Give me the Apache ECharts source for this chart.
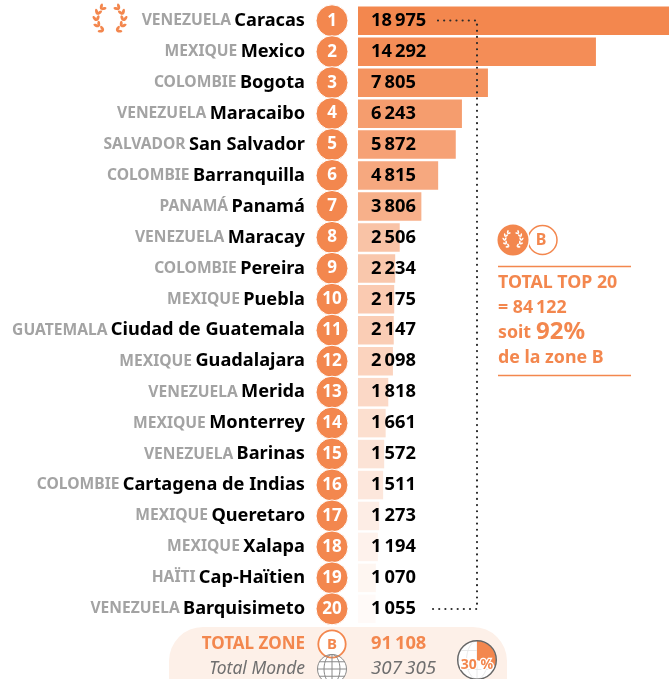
<!DOCTYPE html>
<html><head><meta charset="utf-8">
<style>html,body{margin:0;padding:0;background:#fff}#c{width:669px;height:679px}</style>
<script src="https://cdn.jsdelivr.net/npm/echarts@6/dist/echarts.min.js"></script>
</head><body><div id="c"></div>
<script>
const countries=["VENEZUELA","MEXIQUE","COLOMBIE","VENEZUELA","SALVADOR","COLOMBIE","PANAMÁ","VENEZUELA","COLOMBIE","MEXIQUE","GUATEMALA","MEXIQUE","VENEZUELA","MEXIQUE","VENEZUELA","COLOMBIE","MEXIQUE","MEXIQUE","HAÏTI","VENEZUELA"];
const cities=["Caracas","Mexico","Bogota","Maracaibo","San Salvador","Barranquilla","Panamá","Maracay","Pereira","Puebla","Ciudad de Guatemala","Guadalajara","Merida","Monterrey","Barinas","Cartagena de Indias","Queretaro","Xalapa","Cap-Haïtien","Barquisimeto"];
const values=[18975,14292,7805,6243,5872,4815,3806,2506,2234,2175,2147,2098,1818,1661,1572,1511,1273,1194,1070,1055];
const ranks=[1,2,3,4,5,6,7,8,9,10,11,12,13,14,15,16,17,18,19,20];
const totalZone=91108, totalMonde=307305, top20=84122, shareTop="92%", shareMonde=30;

const OR='#F3874E', FF='"Noto Sans"';
const barFade=[1,.95,.9,.82,.78,.72,.66,.5,.47,.44,.42,.37,.32,.27,.23,.2,.15,.11,.08,.04];
const fmt=v=>String(v).replace(/\B(?=(\d{3})+$)/g,'\u2009');
const gridTop=5.3, gridH=619;

function laurel(cx,cy,R,L,W,color,z){
  const out=[];
  [-1,1].forEach(s=>{
    for(let k=0;k<5;k++){
      const t=(28+k*27)*Math.PI/180;
      const px=cx+s*R*Math.sin(t), py=cy+R*Math.cos(t);
      const dx=s*Math.cos(t), dy=-Math.sin(t), nx=s*Math.sin(t), ny=Math.cos(t);
      [1,-1].forEach(side=>{
        const a=0.55, ux=dx*Math.cos(a)+side*nx*Math.sin(a), uy=dy*Math.cos(a)+side*ny*Math.sin(a);
        out.push({type:'ellipse',x:px+ux*L/2,y:py+uy*L/2,rotation:-Math.atan2(uy,ux),
          shape:{cx:0,cy:0,rx:L/2,ry:W/2},style:{fill:color},z});
      });
    }
  });
  return out;
}
function globe(cx,cy,r,color,lw,z){
  const st={fill:'none',stroke:color,lineWidth:lw};
  const o=[];
  [r,r*0.55].forEach(rx=>o.push({type:'ellipse',shape:{cx,cy,rx,ry:r},style:st,z}));
  o.push({type:'line',shape:{x1:cx,y1:cy-r,x2:cx,y2:cy+r},style:st,z});
  [-0.5,0,0.5].forEach(f=>{const w=r*Math.sqrt(1-f*f);
    o.push({type:'line',shape:{x1:cx-w,y1:cy+f*r,x2:cx+w,y2:cy+f*r},style:st,z});});
  return o;
}
const txt=(x,y,text,size,color,align,extra)=>({type:'text',x,y,z:12,style:Object.assign({text,fill:color,align:align||'left',verticalAlign:'middle',font:`bold ${size}px ${FF}`},extra||{})});
const hline=(x1,x2,y)=>({type:'line',z:12,shape:{x1,y1:y,x2,y2:y},style:{stroke:OR,lineWidth:1.3}});

const graphics=[
  {type:'rect',z:0,shape:{x:169,y:627,width:338,height:90,r:34},style:{fill:'#FDF0E8'}},
  {type:'polyline',z:20,shape:{points:[[438,20.5],[477,20.5],[477,609],[428,609]]},style:{fill:'none',stroke:'#2b2b2b',lineWidth:2.2,lineDash:[0.01,6.15],lineCap:'round'}},
  ...laurel(110,19,13.5,6,2.9,OR,12),
  {type:'circle',z:11,shape:{cx:542.5,cy:240,r:14.5},style:{fill:'#fff',stroke:OR,lineWidth:1.5}},
  {type:'circle',z:12,shape:{cx:513,cy:240,r:17},style:{fill:'#fff'}},
  {type:'circle',z:13,shape:{cx:513,cy:240,r:15.5},style:{fill:OR}},
  ...laurel(513,239.5,8.2,3.6,1.7,'#fff',14),
  txt(541,240.5,'B',16,OR,'center'),
  hline(498,631,266.5),
  txt(498,283,'TOTAL TOP 20',17.8,OR),
  txt(498,308,'= '+fmt(top20),17.8,OR),
  txt(498,333,'soit',17.8,OR),
  txt(536,332,shareTop,24,OR),
  txt(498,358,'de la zone B',17.8,OR),
  hline(498,631,375.5),
  txt(305,644,'TOTAL ZONE',17,OR,'right'),
  {type:'circle',z:12,shape:{cx:332,cy:644,r:13.7},style:{fill:'#fff',stroke:OR,lineWidth:1.8}},
  txt(332,644.5,'B',15,OR,'center'),
  txt(371,644,fmt(totalZone),18.3,OR),
  {type:'text',x:305,y:669,z:12,style:{text:'Total Monde',fill:'#6f6f6f',align:'right',verticalAlign:'middle',font:`italic 17.5px ${FF}`}},
  {type:'circle',z:11,shape:{cx:332,cy:669,r:14.5},style:{fill:'#fff'}},
  ...globe(332,669,14.5,'#8a8a8a',1,12),
  {type:'text',x:371,y:669,z:12,style:{text:fmt(totalMonde),fill:'#6f6f6f',verticalAlign:'middle',font:`italic 18.8px ${FF}`}},
  {type:'circle',z:1,shape:{cx:477,cy:660,r:19.5},style:{fill:'#fff'}},
  ...globe(477,660,19,'#e4e4e4',0.8,1),
  {type:'circle',z:12,shape:{cx:477,cy:660,r:19.3},style:{fill:'none',stroke:'#666',lineWidth:1.4}},
  txt(477,665.5,shareMonde+' %',14,OR,'center',{stroke:'#fff',lineWidth:2.5})
];

const chart=echarts.init(document.getElementById('c'),null,{renderer:'canvas'});
chart.setOption({
  animation:false,
  grid:[
    {left:358,top:gridTop,right:0,height:gridH},
    {left:316,top:gridTop,width:32,height:gridH}
  ],
  xAxis:[
    {gridIndex:0,type:'value',min:0,max:18680,show:false},
    {gridIndex:1,type:'value',min:0,max:1,show:false}
  ],
  yAxis:[
    {gridIndex:0,type:'category',inverse:true,data:cities,
      axisLine:{show:false},axisTick:{show:false},
      axisLabel:{margin:53,interval:0,align:'right',
        formatter:(v,i)=>`{c|${countries[i]}} {v|${v}}`,
        rich:{c:{fontFamily:FF,fontWeight:'bold',fontSize:15.6,color:'#a3a3a3'},v:{fontFamily:FF,fontWeight:'bold',fontSize:18.2,color:'#000'}}}},
    {gridIndex:1,type:'category',inverse:true,data:ranks,show:false}
  ],
  series:[
    {type:'bar',xAxisIndex:0,yAxisIndex:0,barWidth:28.5,clip:true,
      data:values.map((v,i)=>({value:v,itemStyle:{color:`rgba(243,135,78,${barFade[i]})`}})),
      label:{show:true,position:'insideLeft',distance:13,color:'#000',fontFamily:FF,fontWeight:'bold',fontSize:18.3,formatter:p=>fmt(p.value)}},
    {type:'scatter',xAxisIndex:1,yAxisIndex:1,symbol:'circle',symbolSize:32,
      itemStyle:{color:OR,borderColor:'#fff',borderWidth:1,opacity:1},
      data:ranks.map((r,i)=>[0.5,i]),
      label:{show:true,position:'inside',color:'#fff',fontFamily:FF,fontWeight:'bold',fontSize:17,formatter:p=>ranks[p.dataIndex]}},
    {type:'pie',center:[477,660],radius:[0,19],startAngle:90,silent:true,z:3,
      label:{show:false},labelLine:{show:false},
      data:[{value:shareMonde,itemStyle:{color:OR}},{value:100-shareMonde,itemStyle:{color:'rgba(255,255,255,0)'}}]}
  ],
  graphic:{elements:graphics}
});
</script></body></html>
